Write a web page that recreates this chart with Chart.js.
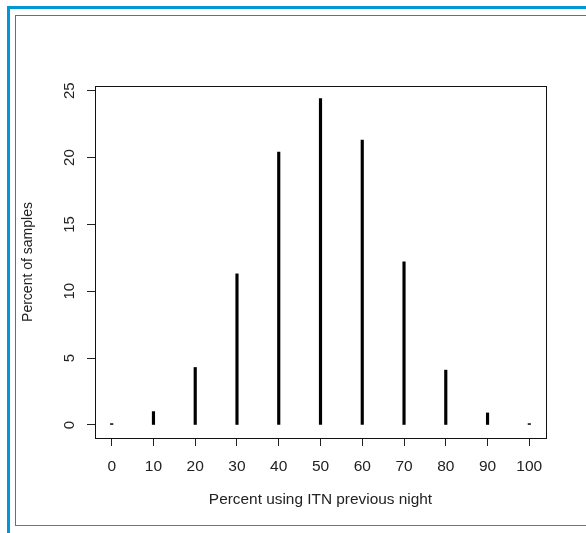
<!DOCTYPE html>
<html>
<head>
<meta charset="utf-8">
<script src="https://cdn.jsdelivr.net/npm/chart.js@4/dist/chart.umd.min.js"></script>
<style>
  html, body { margin: 0; padding: 0; background: #fff; }
  #wrap { position: relative; width: 586px; height: 533px; overflow: hidden; background: #fff; }
  #c { position: absolute; left: 0; top: 0; }
  .ln { position: absolute; }
</style>
</head>
<body>
<div id="wrap">
  <canvas id="c" width="586" height="533"></canvas>
  <div class="ln" style="left:7px; top:6px; width:3px; height:527px; background:#0097d9;"></div>
  <div class="ln" style="left:7px; top:6px; width:579px; height:3px; background:#0097d9;"></div>
  <div class="ln" style="left:15px; top:15px; width:1px; height:511px; background:#0090d4;"></div>
  <div class="ln" style="left:15px; top:15px; width:571px; height:1px; background:#0090d4;"></div>
  <div class="ln" style="left:15px; top:525px; width:571px; height:1px; background:#009ee0;"></div>
</div>
<script>
const categories = [0, 10, 20, 30, 40, 50, 60, 70, 80, 90, 100];
const percentSamples = [0.1, 1.0, 4.3, 11.3, 20.4, 24.4, 21.3, 12.2, 4.1, 0.9, 0.1];
const xTitle = 'Percent using ITN previous night';
const yTitle = 'Percent of samples';

const boxPlugin = {
  id: 'box',
  afterDraw(chart) {
    const a = chart.chartArea, ctx = chart.ctx;
    ctx.save();
    ctx.strokeStyle = '#111';
    ctx.lineWidth = 1;
    ctx.strokeRect(a.left + 0.5, a.top + 0.5, a.right - a.left, a.bottom - a.top);
    ctx.restore();
  }
};

new Chart(document.getElementById('c'), {
  type: 'bar',
  data: {
    datasets: [{
      data: categories.map((c, i) => ({ x: c, y: percentSamples[i] })),
      backgroundColor: '#000',
      borderWidth: 0,
      barThickness: 2.5
    }]
  },
  options: {
    responsive: false,
    animation: false,
    layout: { padding: { left: 0, top: 86, right: 40, bottom: 0 } },
    plugins: { legend: { display: false }, tooltip: { enabled: false } },
    scales: {
      x: {
        type: 'linear',
        offset: false,
        min: -4,
        max: 104,
        afterFit(s) { s.height = 95; },
        border: { display: false },
        grid: { offset: false, drawOnChartArea: false, drawTicks: true, tickLength: 8, color: '#222', lineWidth: 1 },
        ticks: {
          stepSize: 10, includeBounds: false, autoSkip: false,
          maxRotation: 0, minRotation: 0, padding: 11,
          color: '#222', font: { family: 'Liberation Sans', size: 15.5 }
        },
        title: {
          display: true, text: xTitle, color: '#222',
          font: { family: 'Liberation Sans', size: 15.4 },
          padding: { top: 0, bottom: 24 }
        }
      },
      y: {
        type: 'linear',
        min: -0.975,
        max: 25.35,
        afterFit(s) { s.width = 95; },
        border: { display: false },
        grid: { drawOnChartArea: false, drawTicks: true, tickLength: 8, color: '#222', lineWidth: 1 },
        ticks: {
          stepSize: 5, includeBounds: false, autoSkip: false,
          minRotation: 90, maxRotation: 90, crossAlign: 'center', padding: 9,
          color: '#222', font: { family: 'Liberation Sans', size: 15 }
        },
        title: {
          display: true, text: yTitle, color: '#222',
          font: { family: 'Liberation Sans', size: 14 },
          padding: { top: 20, bottom: 0 }
        }
      }
    }
  },
  plugins: [boxPlugin]
});
</script>
</body>
</html>
